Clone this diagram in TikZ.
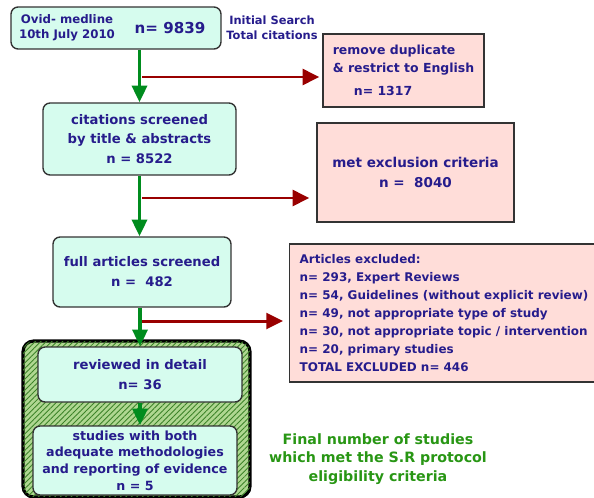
\documentclass[tikz,border=0pt]{standalone}
\usepackage{fontspec}
\setmainfont{DejaVu Sans}
\usetikzlibrary{arrows.meta,positioning,patterns.meta}
\definecolor{inkNavy}{RGB}{38, 28, 140}
\definecolor{inkBox}{RGB}{51, 51, 51}
\definecolor{stageFill}{RGB}{214, 252, 238}
\definecolor{dropFill}{RGB}{255, 221, 217}
\definecolor{keepGreen}{RGB}{0, 140, 30}
\definecolor{cutRed}{RGB}{153, 0, 0}
\definecolor{hatchLight}{RGB}{175, 215, 145}
\definecolor{hatchDark}{RGB}{60, 130, 40}
\definecolor{finalGreen}{RGB}{40, 150, 20}

\begin{document}
\begin{tikzpicture}[
        x=0.02cm, y=-0.02cm,
        stage/.style={draw=inkBox, fill=stageFill, rounded corners=4pt, line width=0.8pt, align=center, font=\fontsize{7.5pt}{11.3pt}\selectfont\bfseries\color{inkNavy}, inner sep=2pt},
        drop/.style={draw=inkBox, fill=dropFill, line width=0.8pt, align=center, font=\fontsize{7.1pt}{10.2pt}\selectfont\bfseries\color{inkNavy}, inner sep=2pt},
        pool/.style={draw=black, line width=1.8pt, rounded corners=6pt, fill=hatchLight, postaction={pattern={Lines[angle=45, distance=2.2pt, line width=0.5pt]}, pattern color=hatchDark}},
        tag/.style={align=center, inner sep=0pt, font=\fontsize{6.7pt}{8.5pt}\selectfont\bfseries\color{inkNavy}},
        keep/.style={-{Triangle[length=9.5pt, width=8.5pt]}, line width=2pt, color=keepGreen},
        cutarr/.style={-{Triangle[length=9.5pt, width=9pt]}, line width=1.7pt, color=cutRed}
    ]
        \useasboundingbox (0,0) rectangle (594,497);
        \clip (0,0) rectangle (594,497);

        % Search
        \node[stage, minimum width=4.2cm, minimum height=0.84cm] (ovid) at (116,28) {};
        \node[tag] (ovidsrc) at (67,28) {Ovid- medline\\10th July 2010};
        \node[tag, font=\fontsize{8.6pt}{10pt}\selectfont\bfseries\color{inkNavy}] (ovidn) at (170,28) {n= 9839};
        \node[tag, font=\fontsize{6.5pt}{8.5pt}\selectfont\bfseries\color{inkNavy}] (initial) at (272,28) {Initial Search\\Total citations};

        % Screening
        \node[stage, minimum width=3.86cm, minimum height=1.44cm] (scr) at (139.5,139) {citations screened\\by title \& abstracts\\n = 8522};
        \node[stage, minimum width=3.56cm, minimum height=1.40cm] (full) at (142,272) {full articles screened\\n = \ 482};

        % Exclusions
        \node[drop, align=left, minimum width=3.22cm, minimum height=1.46cm] (dup) at (403.5,70.5) {remove duplicate\\\& restrict to English\\[2.8pt]\hspace*{12pt}n= 1317};
        \node[drop, font=\fontsize{7.7pt}{11.3pt}\selectfont\bfseries\color{inkNavy}, minimum width=3.94cm, minimum height=1.98cm] (exc) at (415.5,172.5) {met exclusion criteria\\n = \ 8040};
        \node[drop, font=\fontsize{6.8pt}{10.2pt}\selectfont\bfseries\color{inkNavy}, align=left, anchor=west, inner xsep=0.2cm, minimum height=2.76cm] (excl) at (289,313) {Articles excluded:\\n= 293, Expert Reviews\\n= 54, Guidelines (without explicit review)\\n= 49, not appropriate type of study\\n= 30, not appropriate topic / intervention\\n= 20, primary studies\\TOTAL EXCLUDED n= 446};

        % Included
        \node[pool, minimum width=4.54cm, minimum height=3.12cm] (pool) at (136.5,419) {};
        \node[stage, minimum width=4.08cm, minimum height=1.10cm] (rev) at (140,374.5) {reviewed in detail\\n= 36};
        \node[stage, font=\fontsize{7.2pt}{9.5pt}\selectfont\bfseries\color{inkNavy}, minimum width=4.08cm, minimum height=1.38cm] (both) at (135,460.5) {studies with both\\adequate methodologies\\and reporting of evidence\\n = 5};
        \node[tag, font=\fontsize{8.1pt}{10.7pt}\selectfont\bfseries\color{finalGreen}] (final) at (378,459) {Final number of studies\\which met the S.R protocol\\eligibility criteria};

        \draw[keep] (scr.north |- ovid.south) -- (scr.north);
        \draw[keep] (scr.south) -- (scr.south |- full.north);
        \draw[keep] (rev.north |- full.south) -- (rev.north);
        \draw[keep] (rev.south) -- (rev.south |- both.north);

        \coordinate (b1) at (142,77);
        \coordinate (b2) at (142,198);
        \coordinate (b3) at (142,321);
        \draw[cutarr, shorten >=0.06cm] (b1) -- (b1 -| dup.west);
        \draw[cutarr, shorten >=0.14cm] (b2) -- (b2 -| exc.west);
        \draw[cutarr, shorten >=0.12cm] (b3) -- (b3 -| excl.west);
    \end{tikzpicture}
\end{document}
